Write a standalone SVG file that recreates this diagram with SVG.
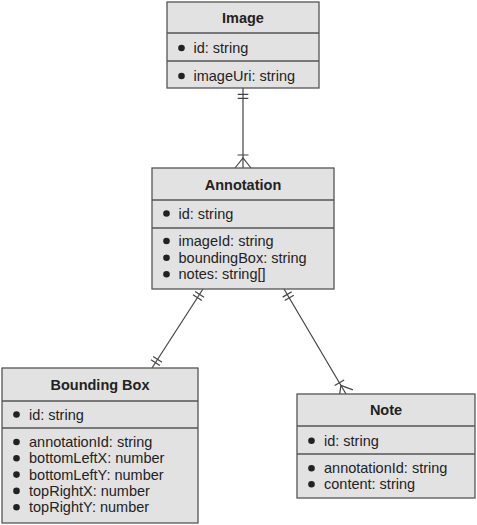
<svg xmlns="http://www.w3.org/2000/svg" width="477" height="525" viewBox="0 0 477 525">
<style>
.box{fill:#e2e2e2;stroke:#555;stroke-width:1.3}
.div{stroke:#555;stroke-width:1.3}
.t{font-family:"Liberation Sans",Arial,sans-serif;font-size:14.5px;fill:#222}
.h{font-weight:bold;text-anchor:middle}
.b{fill:#222}
.c{stroke:#444;stroke-width:1.2;fill:none}
.m{stroke:#444;stroke-width:1.2;fill:none}
</style>
<defs>
<marker id="one" viewBox="-20 -10 40 20" markerWidth="40" markerHeight="20" refX="0" refY="0" markerUnits="userSpaceOnUse" orient="auto">
<path class="m" d="M-6.3,-5.3V5.3M-10.3,-5.3V5.3"/>
</marker>
<marker id="oneStart" viewBox="-20 -10 40 20" markerWidth="40" markerHeight="20" refX="0" refY="0" markerUnits="userSpaceOnUse" orient="auto-start-reverse">
<path class="m" d="M-6.3,-5.3V5.3M-10.3,-5.3V5.3"/>
</marker>
<marker id="many" viewBox="-20 -10 40 20" markerWidth="40" markerHeight="20" refX="0" refY="0" markerUnits="userSpaceOnUse" orient="auto">
<path class="m" d="M-13,-5.5V5.5M0,-8L-10,0L0,8"/>
</marker>
</defs>
<g id="connectors">
<path class="c" d="M243,88L243,168" marker-start="url(#oneStart)" marker-end="url(#many)"/>
<path class="c" d="M203,289L152,368" marker-start="url(#oneStart)" marker-end="url(#one)"/>
<path class="c" d="M284,289L346,394" marker-start="url(#oneStart)" marker-end="url(#many)"/>
</g>
<g id="image">
<rect class="box" x="167" y="2" width="152" height="86"/>
<line class="div" x1="167" y1="33" x2="319" y2="33"/>
<line class="div" x1="167" y1="61" x2="319" y2="61"/>
<text class="t h" x="243" y="23">Image</text>
<circle class="b" cx="181.5" cy="48" r="3.3"/>
<text class="t" x="193.5" y="53">id: string</text>
<circle class="b" cx="181.5" cy="76" r="3.3"/>
<text class="t" x="193.5" y="81">imageUri: string</text>
</g>
<g id="annotation">
<rect class="box" x="152" y="168" width="182" height="121"/>
<line class="div" x1="152" y1="200" x2="334" y2="200"/>
<line class="div" x1="152" y1="228" x2="334" y2="228"/>
<text class="t h" x="243" y="189.5">Annotation</text>
<circle class="b" cx="166.5" cy="213.5" r="3.3"/>
<text class="t" x="178.5" y="218.5">id: string</text>
<circle class="b" cx="166.5" cy="241" r="3.3"/>
<text class="t" x="178.5" y="246">imageId: string</text>
<circle class="b" cx="166.5" cy="257.7" r="3.3"/>
<text class="t" x="178.5" y="262.7">boundingBox: string</text>
<circle class="b" cx="166.5" cy="274.3" r="3.3"/>
<text class="t" x="178.5" y="279.3">notes: string[]</text>
</g>
<g id="boundingBox">
<rect class="box" x="2" y="368" width="196" height="155"/>
<line class="div" x1="2" y1="401" x2="198" y2="401"/>
<line class="div" x1="2" y1="428" x2="198" y2="428"/>
<text class="t h" x="100" y="390">Bounding Box</text>
<circle class="b" cx="16.5" cy="414.5" r="3.3"/>
<text class="t" x="29" y="419.5">id: string</text>
<circle class="b" cx="16.5" cy="442" r="3.3"/>
<text class="t" x="29" y="447">annotationId: string</text>
<circle class="b" cx="16.5" cy="458.3" r="3.3"/>
<text class="t" x="29" y="463.3">bottomLeftX: number</text>
<circle class="b" cx="16.5" cy="474.6" r="3.3"/>
<text class="t" x="29" y="479.6">bottomLeftY: number</text>
<circle class="b" cx="16.5" cy="490.9" r="3.3"/>
<text class="t" x="29" y="495.9">topRightX: number</text>
<circle class="b" cx="16.5" cy="507.2" r="3.3"/>
<text class="t" x="29" y="512.2">topRightY: number</text>
</g>
<g id="note">
<rect class="box" x="297" y="394" width="178" height="104"/>
<line class="div" x1="297" y1="426" x2="475" y2="426"/>
<line class="div" x1="297" y1="454" x2="475" y2="454"/>
<text class="t h" x="386" y="415">Note</text>
<circle class="b" cx="311.5" cy="440.7" r="3.3"/>
<text class="t" x="324" y="445.7">id: string</text>
<circle class="b" cx="311.5" cy="468.3" r="3.3"/>
<text class="t" x="324" y="473.3">annotationId: string</text>
<circle class="b" cx="311.5" cy="484.3" r="3.3"/>
<text class="t" x="324" y="489.3">content: string</text>
</g>
</svg>
